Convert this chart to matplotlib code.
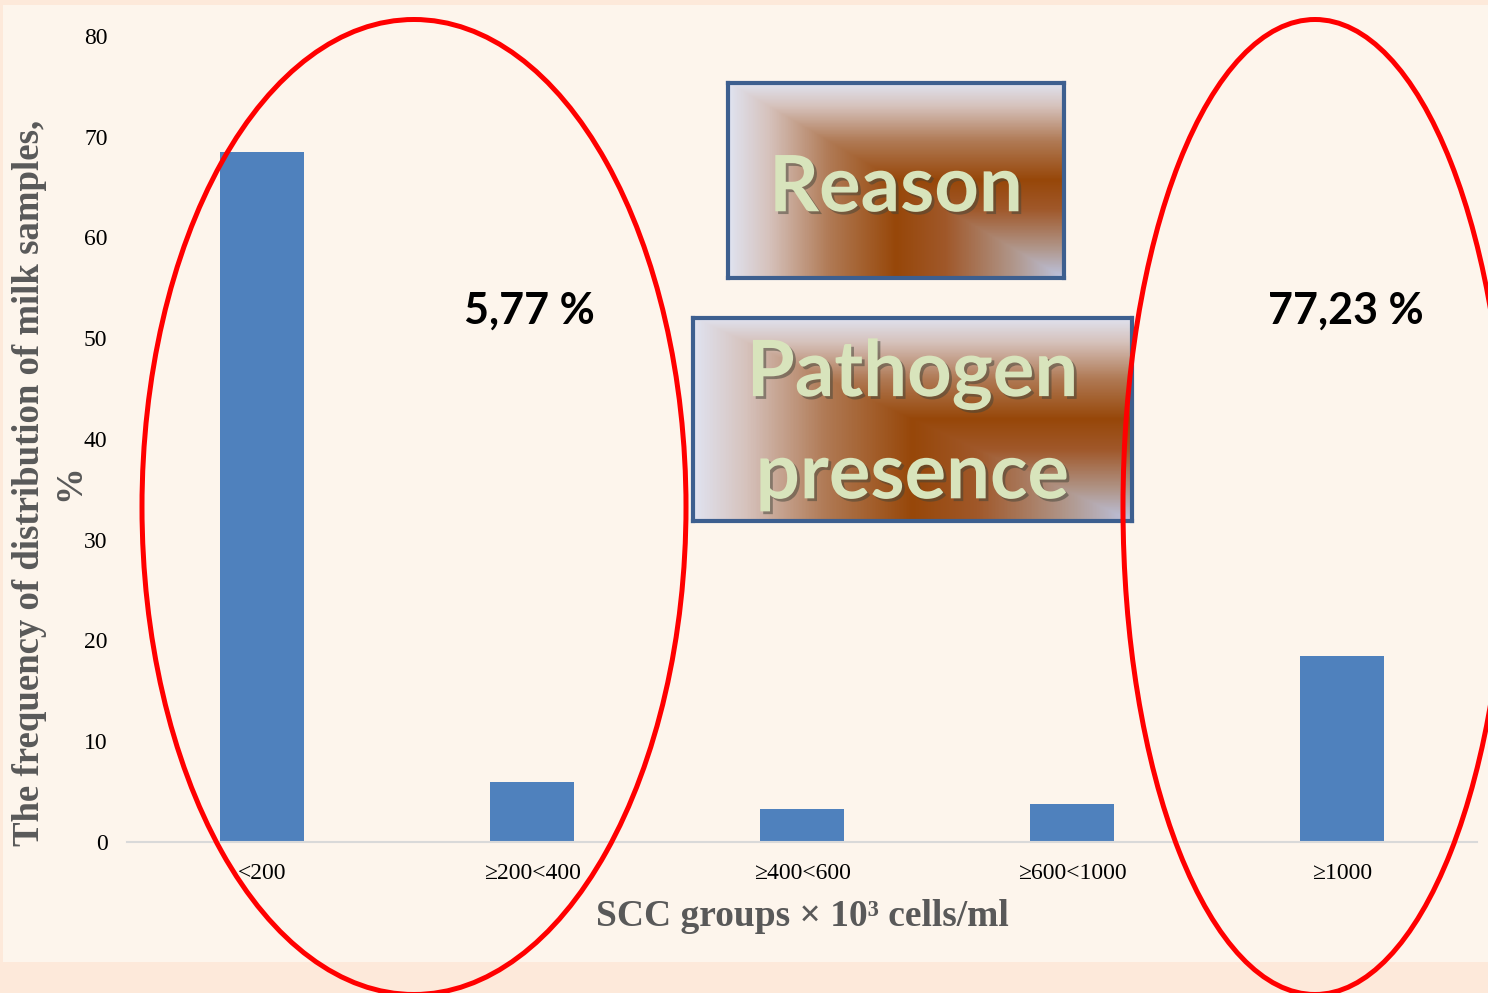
import numpy as np
import matplotlib
matplotlib.use("Agg")
import matplotlib.pyplot as plt
import matplotlib.patches as mp
import matplotlib.patheffects as pe
from matplotlib.colors import LinearSegmentedColormap

# data
groups = ["<200", "≥200<400", "≥400<600", "≥600<1000", "≥1000"]
freq = [68.5, 6.0, 3.3, 3.8, 18.5]
share_low = "5,77 %"
share_high = "77,23 %"

W, H = 1488, 993
fig = plt.figure(figsize=(W / 100, H / 100), dpi=100, facecolor="#fde9da")
fig.add_artist(mp.Rectangle((3 / W, 1 - 962 / H), 1, (962 - 5) / H,
                            transform=fig.transFigure, facecolor="#fdf5ec",
                            edgecolor="none", zorder=-10))

ax = fig.add_axes([127 / W, 1 - 842 / H, 1350 / W, 806 / H])
ax.set_facecolor("none")
x = np.arange(len(groups))
ax.bar(x, freq, width=0.31, color="#4f81bd", zorder=2)
ax.set_xlim(-0.5, len(groups) - 0.5)
ax.set_ylim(0, 80)
ax.set_yticks(range(0, 81, 10))
ax.set_xticks(x)
ax.set_xticklabels(groups)
for s in ["top", "right", "left"]:
    ax.spines[s].set_visible(False)
ax.spines["bottom"].set_color("#d9d9d9")
ax.spines["bottom"].set_linewidth(1.5)
ax.tick_params(length=0, labelsize=17)
ax.tick_params(axis="y", pad=14)
ax.tick_params(axis="x", pad=15)
for lab in ax.get_xticklabels() + ax.get_yticklabels():
    lab.set_fontfamily("Liberation Serif")

# y label: two lines drawn separately
fig.text(30 / W, 1 - 483 / H, "The frequency of distribution of milk samples,",
         rotation=90, ha="center", va="center", family="Liberation Serif",
         fontweight="bold", fontsize=26.5, color="#595959")
fig.text(70 / W, 1 - 483 / H, "%", rotation=90, ha="center", va="center",
         family="Liberation Serif", fontweight="bold", fontsize=26.5, color="#595959")
fig.text(802 / W, 1 - 917 / H, "SCC groups × 10³ cells/ml", ha="center", va="center",
         family="Liberation Serif", fontweight="bold", fontsize=27, color="#595959")

fig.text(529 / W, 1 - 311 / H, share_low, ha="center", va="center",
         family="Lato", fontweight="bold", fontsize=31, color="black")
fig.text(1346 / W, 1 - 311 / H, share_high, ha="center", va="center",
         family="Lato", fontweight="bold", fontsize=31, color="black")

# gradient boxes (path gradient from bottom-right corner)
cmap = LinearSegmentedColormap.from_list(
    "brownish", [(0.0, "#bcc3df"), (0.15, "#b0968a"), (0.35, "#a0582a"),
                 (0.5, "#974709"), (0.7, "#b07a55"), (0.88, "#d6c2bc"),
                 (1.0, "#e0e3f0")])


def gradient_box(rect, lines, ys, size):
    bx = fig.add_axes(rect)
    h, w = 200, 400
    u = np.linspace(0, 1, w)[None, :]
    v = np.linspace(0, 1, h)[:, None]
    d = np.maximum(1 - u, 1 - v)
    bx.imshow(d, cmap=cmap, vmin=0, vmax=1, aspect="auto",
              extent=[0, 1, 1, 0], interpolation="bilinear")
    bx.set_xticks([])
    bx.set_yticks([])
    for s in bx.spines.values():
        s.set_color("#3d5f8f")
        s.set_linewidth(3)
    for t, yy in zip(lines, ys):
        bx.text(0.5, yy, t, transform=bx.transAxes, ha="center", va="center",
                family="Lato", fontweight="bold", fontsize=size, color="#d8e4bc",
                path_effects=[pe.SimplePatchShadow(offset=(2, -2), alpha=0.5),
                              pe.Normal()])


gradient_box([728 / W, 1 - 278 / H, 336 / W, 195 / H], ["Reason"], [0.455], 56)
gradient_box([693 / W, 1 - 521 / H, 439 / W, 203 / H], ["Pathogen", "presence"],
             [0.72, 0.22], 56)

# red ellipses
for cx, cy, ew, eh in [(414, 507, 544, 975), (1315, 507, 384, 975)]:
    fig.add_artist(mp.Ellipse((cx / W, 1 - cy / H), ew / W, eh / H,
                              transform=fig.transFigure, facecolor="none",
                              edgecolor="#ff0000", linewidth=3.6, zorder=10))

fig.savefig("out.png", dpi=100, facecolor=fig.get_facecolor())
